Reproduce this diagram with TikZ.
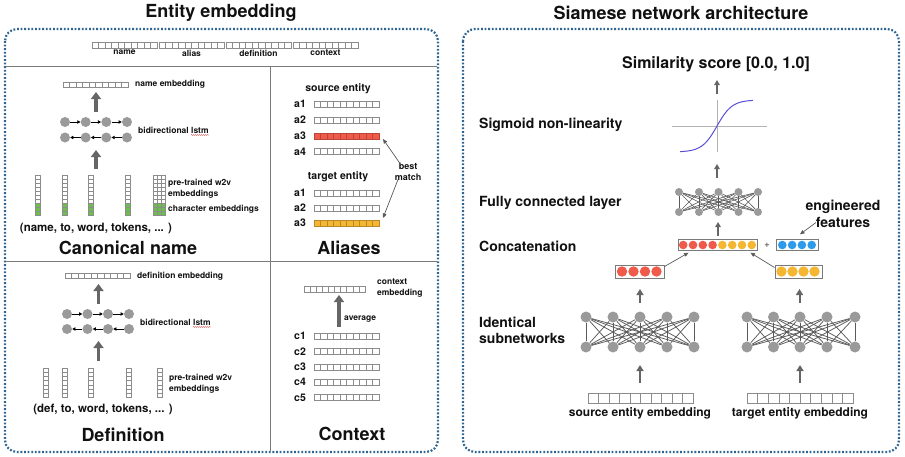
\documentclass[tikz,border=0pt]{standalone}
\usepackage{fontspec}
\setmainfont{TeX Gyre Heros}
\usetikzlibrary{arrows.meta,backgrounds,decorations.pathmorphing}
\definecolor{framec}{HTML}{2F6592}
\definecolor{divc}{HTML}{7A7A7A}
\definecolor{cellc}{HTML}{8C8C8C}
\definecolor{nodeg}{HTML}{9A9A9A}
\definecolor{edgeg}{HTML}{5A5A5A}
\definecolor{arrg}{HTML}{666666}
\definecolor{cred}{HTML}{F05A4B}
\definecolor{credd}{HTML}{B8463A}
\definecolor{corg}{HTML}{F5B632}
\definecolor{corgd}{HTML}{B8892A}
\definecolor{cblue}{HTML}{2E9BEA}
\definecolor{cgreen}{HTML}{6BBF4A}
\definecolor{sigc}{HTML}{5B4FD6}
\definecolor{txt}{HTML}{111111}
\definecolor{spell}{HTML}{D9534F}
\newcommand{\fsz}[2][1.2]{\fontsize{#2}{#1\dimexpr#2pt\relax}\selectfont}
% horizontal bar: name, xc, yc, width, height, cells, fill, draw
\newcommand{\embbar}[8]{%
  \node[draw=#8, fill=#7, line width=0.5pt, inner sep=0pt, outer sep=0pt,
        minimum width=#4pt, minimum height=#5pt] (#1) at (#2,#3) {};
  \pgfmathtruncatemacro{\embn}{#6-1}%
  \foreach \k in {1,...,\embn}{\draw[draw=#8, line width=0.5pt]
     ([xshift=\k*#4pt/#6]#1.north west) -- ([xshift=\k*#4pt/#6]#1.south west);}%
}
% vertical column grid: name, xleft, ytop, cellw, cellh, rows, cols, ngreen
\newcommand{\embcol}[8]{%
  \foreach \r in {1,...,#6}{\foreach \c in {1,...,#7}{%
    \ifnum\r>\numexpr#6-#8\relax\def\fc{cgreen}\else\def\fc{white}\fi
    \draw[draw=cellc, line width=0.45pt, fill=\fc]
      ({#2+(\c-1)*#4},{#3+(\r-1)*#5}) rectangle ++(#4,#5);}}%
  \coordinate (#1) at ({#2+#4*#7/2},{#3});%
}
\tikzset{
  frame/.style={draw=framec, line width=2.2pt, dash pattern=on 1.8pt off 1.8pt, rounded corners=12pt},
  divider/.style={draw=divc, line width=0.9pt},
  tiny/.style={font=\bfseries\fsz{8.5}, text=txt, inner sep=0pt},
  lbs/.style={font=\bfseries\fsz{8.5}, text=txt, inner sep=0pt, anchor=west},
  lbm/.style={font=\bfseries\fsz{14}, text=txt, inner sep=0pt, anchor=west},
  panel/.style={font=\bfseries\fsz{18}, text=txt, inner sep=0pt},
  tok/.style={font=\bfseries\fsz{11.5}, text=txt, inner sep=0pt},
  alab/.style={font=\bfseries\fsz{10.5}, text=txt, inner sep=0pt},
  lstmn/.style={circle, fill=nodeg, inner sep=0pt, minimum size=10pt},
  larrow/.style={draw=black, line width=0.8pt, -{Triangle[length=3.2pt,width=3.4pt]}},
  bigarrow/.style={draw=arrg, line width=3.4pt, -{Triangle[length=7pt,width=10pt]}},
  midarrow/.style={draw=arrg, line width=2pt, -{Triangle[length=6pt,width=7pt]}},
  smallarrow/.style={draw=arrg, line width=1.5pt, -{Triangle[length=5pt,width=5.5pt]}},
  thinarrow/.style={draw=edgeg, line width=0.7pt, -{Triangle[length=4.5pt,width=3.8pt]}},
  fcn/.style={circle, fill=nodeg, inner sep=0pt, minimum size=8pt},
  snn/.style={circle, fill=nodeg, inner sep=0pt, minimum size=11pt},
  nnedge/.style={draw=edgeg, line width=0.6pt},
  dot/.style={circle, inner sep=0pt, minimum size=8.6pt},
  bdot/.style={circle, inner sep=0pt, minimum size=10.4pt},
  grpbox/.style={draw=divc, line width=0.9pt, fill=white, inner sep=0pt},
  squiggle/.style={draw=spell, line width=0.5pt, decorate, decoration={snake, amplitude=0.5pt, segment length=2pt}},
}
\begin{document}
\begin{tikzpicture}[x=1pt,y=-1pt]
\useasboundingbox (0,0) rectangle (905,456);
\begin{pgfonlayer}{background}
\fill[white] (0,0) rectangle (905,456);
\end{pgfonlayer}

% ---------- titles ----------
\node[panel] (t1) at (221,13) {Entity embedding};
\node[panel] (t2) at (681,13) {Siamese network architecture};

% ---------- frames ----------
\draw[frame] (5,29) rectangle (438,452);
\draw[frame] (463,29) rectangle (899,452);
\draw[divider] (6,66) -- (437,66);
\draw[divider] (270,66) -- (270,451);
\draw[divider] (6,261) -- (437,261);

% ---------- top strip ----------
\embbar{tn}{124.5}{45}{65}{6}{10}{white}{cellc}
\embbar{ta}{191.5}{45}{65}{6}{10}{white}{cellc}
\embbar{td}{258.5}{45}{65}{6}{10}{white}{cellc}
\embbar{tc}{325.5}{45}{65}{6}{10}{white}{cellc}
\node[tiny, anchor=north] (ltn) at ([yshift=-2pt]tn.south) {name};
\node[tiny, anchor=north] (lta) at ([yshift=-2pt]ta.south) {alias};
\node[tiny, anchor=north] (ltd) at ([yshift=-2pt]td.south) {definition};
\node[tiny, anchor=north] (ltc) at ([yshift=-2pt]tc.south) {context};

% ---------- canonical name ----------
\embbar{ne}{95.5}{84.5}{65}{5}{10}{white}{cellc}
\node[lbs] (nel) at (135,84.5) {name embedding};
\foreach \xx [count=\i] in {65,85.7,106.3,127}{
  \node[lstmn] (na\i) at (\xx,122) {};
  \node[lstmn] (nb\i) at (\xx,137.5) {};
}
\foreach \i/\j in {1/2,2/3,3/4}{
  \draw[larrow] (na\i) -- (na\j);
  \draw[larrow] (nb\j) -- (nb\i);
}
\node[lbs] (nbl) at (138,130) {bidirectional lstm};
\draw[squiggle] ([xshift=53pt,yshift=-5pt]nbl.west) -- ++(17.5,0);
\coordinate (nA1) at (96,112); \coordinate (nA2) at (96,92);
\draw[bigarrow] (nA1) -- (nA2);
\coordinate (nB1) at (96,169); \coordinate (nB2) at (96,150);
\draw[bigarrow] (nB1) -- (nB2);
\embcol{nw1}{35.5}{175}{5}{4}{10}{1}{3}
\embcol{nw2}{62.5}{175}{5}{4}{10}{1}{3}
\embcol{nw3}{88.5}{175}{5}{4}{10}{1}{3}
\embcol{nw4}{125}{175}{5}{4}{10}{1}{3}
\embcol{nw5}{153}{175}{4}{4}{10}{3}{3}
\node[lbs] (nptl) at (168,183) {pre-trained w2v};
\node[lbs] (npt2) at (168,194) {embeddings};
\node[lbs] (ncel) at (168,209.5) {character embeddings};
\node[tok] (ntok) at (96,228) {(name, to, word, tokens, ... )};
\node[panel] (ncap) at (128,248) {Canonical name};

% ---------- aliases ----------
\node[alab] (srcl) at (338,89) {source entity};
\foreach \bn/\yy/\fl/\dr in {sa1/104/white/cellc, sa2/120/white/cellc, sa3/136/cred/credd, sa4/151.5/white/cellc,
                             ta1/193/white/cellc, ta2/208/white/cellc, ta3/223/corg/corgd}{
  \embbar{\bn}{346.5}{\yy}{65}{6}{10}{\fl}{\dr}
}
\node[alab] (sa1l) at (300,104) {a1};
\node[alab] (sa2l) at (300,120) {a2};
\node[alab] (sa3l) at (300,136) {a3};
\node[alab] (sa4l) at (300,151.5) {a4};
\node[alab] (tgtl) at (338,177) {target entity};
\node[alab] (ta1l) at (300,193) {a1};
\node[alab] (ta2l) at (300,208) {a2};
\node[alab] (ta3l) at (300,223) {a3};
\node[font=\bfseries\fontsize{9}{11}\selectfont, text=txt, inner sep=0pt, align=center] (bm) at (408,171.5) {best\\match};
\draw[thinarrow] ([xshift=-8pt,yshift=-1pt]bm.north) -- ([xshift=4pt,yshift=-3pt]sa3.east);
\draw[thinarrow] ([xshift=-10pt,yshift=1pt]bm.south) -- ([xshift=4pt,yshift=5pt]ta3.east);
\node[panel] (acap) at (349,248) {Aliases};

% ---------- definition ----------
\embbar{de}{97.5}{276}{65}{5}{10}{white}{cellc}
\node[lbs] (del) at (137,276) {definition embedding};
\foreach \xx [count=\i] in {67,87.5,108,129}{
  \node[lstmn] (da\i) at (\xx,314) {};
  \node[lstmn] (db\i) at (\xx,329) {};
}
\foreach \i/\j in {1/2,2/3,3/4}{
  \draw[larrow] (da\i) -- (da\j);
  \draw[larrow] (db\j) -- (db\i);
}
\node[lbs] (dbl) at (140,322) {bidirectional lstm};
\draw[squiggle] ([xshift=53pt,yshift=-5pt]dbl.west) -- ++(17.5,0);
\coordinate (dA1) at (98.5,304); \coordinate (dA2) at (98.5,284);
\draw[bigarrow] (dA1) -- (dA2);
\coordinate (dB1) at (98.5,361); \coordinate (dB2) at (98.5,341);
\draw[bigarrow] (dB1) -- (dB2);
\embcol{dw1}{43}{368}{5}{4.2}{7}{1}{0}
\embcol{dw2}{62.5}{368}{5}{4.2}{7}{1}{0}
\embcol{dw3}{88.5}{368}{5}{4.2}{7}{1}{0}
\embcol{dw4}{126.5}{368}{5}{4.2}{7}{1}{0}
\embcol{dw5}{157.5}{368}{5}{4.2}{7}{1}{0}
\node[lbs] (dptl) at (169,378) {pre-trained w2v};
\node[lbs] (dpt2) at (169,389) {embeddings};
\node[tok] (dtok) at (103,409) {(def, to, word, tokens, ... )};
\node[panel] (dcap) at (123,435) {Definition};

% ---------- context ----------
\embbar{ce}{334.5}{289}{61}{5.5}{10}{white}{cellc}
\node[font=\bfseries\fontsize{8.5}{10.5}\selectfont, text=txt, inner sep=0pt, anchor=west, align=left] (cel) at (377,288) {context\\embedding};
\coordinate (cA1) at (339,327); \coordinate (cA2) at (339,295);
\draw[bigarrow] (cA1) -- (cA2);
\node[lbs] (cavg) at (344,319) {average};
\foreach \cn/\yy [count=\i] in {c1/336,c2/351.5,c3/367,c4/382,c5/397.5}{
  \embbar{cb\i}{346.5}{\yy}{65}{6}{10}{white}{cellc}
  \node[alab] (cl\i) at (300,\yy) {\cn};
}
\node[panel] (ccap) at (352,434) {Context};

% ---------- siamese ----------
\node[font=\bfseries\fsz{16}, text=txt, inner sep=0pt] (score) at (716,64) {Similarity score [0.0, 1.0]};
\coordinate (sA1) at (717,94); \coordinate (sA2) at (717,80);
\draw[smallarrow] (sA1) -- (sA2);
% sigmoid
\coordinate (sgL) at (672,126); \coordinate (sgR) at (767,126);
\coordinate (sgT) at (717,100); \coordinate (sgB) at (717,152);
\draw[draw=black!30, line width=0.6pt] (sgL) -- (sgR);
\draw[draw=black!30, line width=0.6pt] (sgT) -- (sgB);
\draw[sigc, line width=1pt] plot[domain=-37:36, samples=60, smooth] ({717+\x},{126-26*tanh(\x/15)});
\node[lbm] (sigl) at (479,125) {Sigmoid non-linearity};
\coordinate (fA1) at (717,178); \coordinate (fA2) at (717,164);
\draw[smallarrow] (fA1) -- (fA2);
% fully connected
\foreach \xx [count=\i] in {679,699,718.5,738.5,758}{
  \node[fcn] (ft\i) at (\xx,192) {};
  \node[fcn] (fb\i) at (\xx,212) {};
}
\begin{pgfonlayer}{background}
\foreach \i in {1,...,5}{\foreach \j in {1,...,5}{\draw[nnedge] (ft\i) -- (fb\j);}}
\end{pgfonlayer}
\node[lbm] (fcl) at (479,203) {Fully connected layer};
\coordinate (kA1) at (718,236); \coordinate (kA2) at (718,222);
\draw[smallarrow] (kA1) -- (kA2);
% concatenation
\node[grpbox, minimum width=79pt, minimum height=10.5pt] (cat) at (717.5,245) {};
\foreach \i in {0,...,3}{\node[dot, fill=cred] (cr\i) at (683.2+\i*9.8,245) {};}
\foreach \i in {0,...,3}{\node[dot, fill=corg] (co\i) at (722.4+\i*9.8,245) {};}
\node[font=\bfseries\fsz{9}, text=arrg, inner sep=0pt] (plus) at (767,245) {+};
\node[grpbox, minimum width=42pt, minimum height=10.5pt] (eng) at (797,245) {};
\foreach \i in {0,...,3}{\node[dot, fill=cblue] (cbl\i) at (782.3+\i*9.8,245) {};}
\node[lbm] (catl) at (479,246) {Concatenation};
\node[font=\bfseries\fontsize{14}{17}\selectfont, text=txt, inner sep=0pt, align=center] (engl) at (843,213.5) {engineered\\features};
\draw[thinarrow] ([xshift=-27pt,yshift=-9pt]engl.center) -- ([xshift=3pt,yshift=5pt]eng.north);
% branch outputs
\node[grpbox, minimum width=49pt, minimum height=13pt] (lbx) at (639.5,271.5) {};
\foreach \i in {0,...,3}{\node[bdot, fill=cred] (lr\i) at (622+\i*11.5,271.5) {};}
\node[grpbox, minimum width=47pt, minimum height=13pt] (rbx) at (798.5,271.5) {};
\foreach \i in {0,...,3}{\node[bdot, fill=corg] (ro\i) at (781.5+\i*11,271.5) {};}
\draw[thinarrow] ([yshift=-2pt]lbx.north east) -- ([xshift=11pt,yshift=-2pt]cat.south west);
\draw[thinarrow] ([yshift=-3pt]rbx.north west) -- ([xshift=-7pt,yshift=-2pt]cat.south east);
% subnetworks
\foreach \xx [count=\i] in {586,613,640,667,694}{
  \node[snn] (lt\i) at (\xx,317) {};
  \node[snn] (lb\i) at (\xx,347) {};
}
\foreach \xx [count=\i] in {747,773.5,800,827,855}{
  \node[snn] (rt\i) at (\xx,317) {};
  \node[snn] (rb\i) at (\xx,347) {};
}
\begin{pgfonlayer}{background}
\foreach \i in {1,...,5}{\foreach \j in {1,...,5}{
  \draw[nnedge, line width=0.75pt] (lt\i) -- (lb\j);
  \draw[nnedge, line width=0.75pt] (rt\i) -- (rb\j);}}
\end{pgfonlayer}
\node[font=\bfseries\fontsize{14}{16}\selectfont, text=txt, inner sep=0pt, anchor=west, align=left] (idl) at (479,330) {Identical\\subnetworks};
\coordinate (lA1) at (640,303); \coordinate (lA2) at (640,289);
\draw[midarrow] (lA1) -- (lA2);
\coordinate (rA1) at (799.5,303); \coordinate (rA2) at (799.5,289);
\draw[midarrow] (rA1) -- (rA2);
\coordinate (lB1) at (640,383); \coordinate (lB2) at (640,365);
\draw[midarrow] (lB1) -- (lB2);
\coordinate (rB1) at (800,383); \coordinate (rB2) at (800,365);
\draw[midarrow] (rB1) -- (rB2);
\embbar{seb}{640.5}{398}{105}{10}{10}{white}{cellc}
\embbar{teb}{800}{398}{106}{10}{10}{white}{cellc}
\node[font=\bfseries\fsz{12}, text=txt, inner sep=0pt] (sebl) at (640,413) {source entity embedding};
\node[font=\bfseries\fsz{12}, text=txt, inner sep=0pt] (tebl) at (800,413) {target entity embedding};
\end{tikzpicture}
\end{document}
